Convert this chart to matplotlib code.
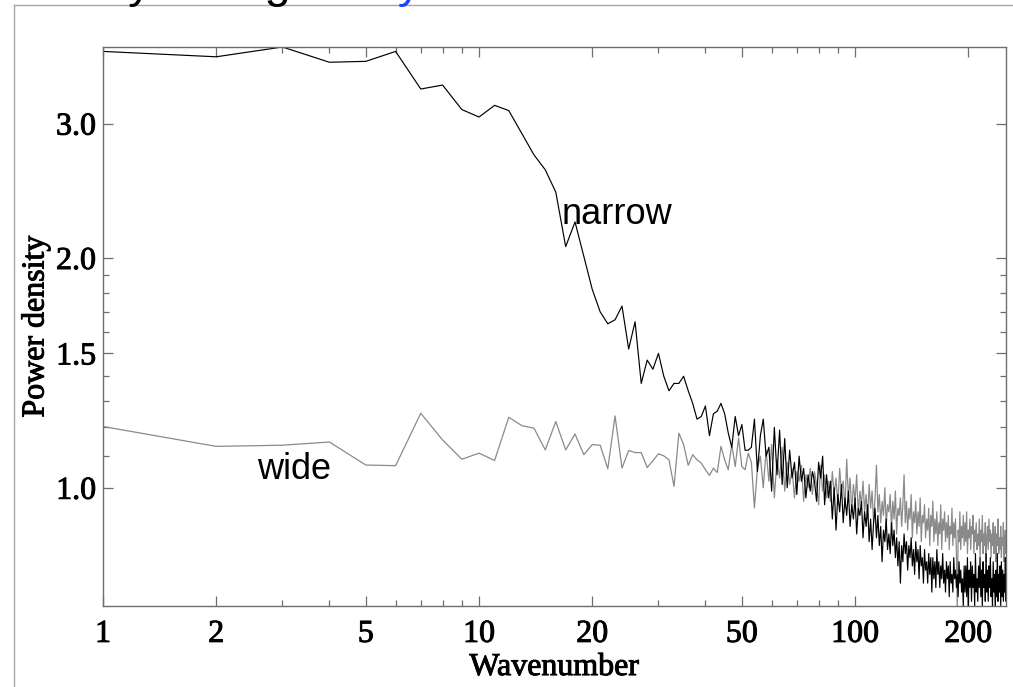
import numpy as np
import matplotlib.pyplot as plt
import matplotlib.patheffects as pe
from matplotlib.lines import Line2D
from matplotlib.ticker import FixedLocator, NullFormatter

# power spectra, one value per wavenumber k = 1, 2, 3, ...
narrow = [
    3.73, 3.67, 3.78, 3.61, 3.62, 3.73, 3.33, 3.37, 3.13, 3.06,
    3.17, 3.12, 2.91, 2.73, 2.61, 2.44, 2.07, 2.23, 2.01, 1.82,
    1.70, 1.64, 1.66, 1.73, 1.52, 1.65, 1.37, 1.47, 1.43, 1.50,
    1.40, 1.34, 1.37, 1.37, 1.40, 1.34, 1.29, 1.23, 1.24, 1.28,
    1.17, 1.25, 1.26, 1.29, 1.25, 1.18, 1.13, 1.24, 1.17, 1.21,
    1.12, 1.12, 1.13, 1.23, 1.05,
    1.17, 1.23, 1.10, 1.13, 0.99, 1.20, 1.04, 1.19, 1.01, 1.16,
    1.00, 1.12, 1.03, 1.08, 0.98, 1.10, 1.02, 1.06, 0.97, 1.04,
    0.99, 1.05, 1.02, 0.96, 1.08, 1.03, 1.10, 0.95, 1.04, 0.97,
    1.02, 0.91, 1.00, 0.88, 0.98, 0.93, 1.01, 0.90, 0.97, 0.92,
    0.99, 0.89, 0.95, 0.91, 0.97, 0.87, 0.94, 0.92, 0.96, 0.86,
    0.93, 0.89, 0.95, 0.85, 0.91, 0.83, 0.90, 0.94, 0.86, 0.92,
    0.84, 0.89, 0.80, 0.88, 0.85, 0.91, 0.83, 0.87, 0.82, 0.90,
    0.84, 0.88, 0.81, 0.86, 0.79, 0.85, 0.75, 0.84, 0.80, 0.87,
    0.82, 0.85, 0.78, 0.84, 0.81, 0.86, 0.79, 0.83, 0.77, 0.85,
    0.80, 0.83, 0.76, 0.84, 0.79, 0.81, 0.75, 0.83, 0.78, 0.80,
    0.75, 0.82, 0.77, 0.81, 0.73, 0.81, 0.76, 0.80, 0.74, 0.83,
    0.77, 0.80, 0.74, 0.79, 0.76, 0.82, 0.75, 0.78, 0.73, 0.80,
    0.76, 0.79, 0.72, 0.80, 0.75, 0.77, 0.73, 0.81, 0.76, 0.78,
    0.74, 0.77, 0.72, 0.80, 0.75, 0.78, 0.73, 0.76, 0.70, 0.79,
    0.73, 0.79, 0.72, 0.81, 0.69, 0.78, 0.74, 0.80, 0.71, 0.79,
    0.74, 0.77, 0.70, 0.82, 0.73, 0.76, 0.71, 0.79, 0.74, 0.81,
    0.72, 0.78, 0.70, 0.80, 0.74, 0.77, 0.71, 0.82, 0.73, 0.78,
    0.71, 0.79, 0.74, 0.81, 0.72, 0.76, 0.70, 0.80, 0.73, 0.77,
    0.69, 0.78, 0.72, 0.82, 0.71, 0.77, 0.73, 0.79, 0.70, 0.80,
    0.72, 0.78, 0.71, 0.77, 0.73, 0.81, 0.71, 0.79, 0.74, 0.78,
]

wide = [
    1.203, 1.133, 1.137, 1.148, 1.071, 1.069, 1.252, 1.155, 1.090, 1.110,
    1.086, 1.237, 1.206, 1.197, 1.121, 1.221, 1.121, 1.176, 1.105, 1.139,
    1.137, 1.059, 1.242, 1.061, 1.119, 1.112, 1.112, 1.063, 1.085, 1.108,
    1.101, 1.088, 1.004, 1.179, 1.139, 1.070, 1.105, 1.088, 1.077, 1.056,
    1.038, 1.061, 1.047, 1.133, 1.088, 1.056, 1.139, 1.066, 1.162, 1.066,
    1.056, 1.110, 1.080, 0.941, 1.060,
    1.10, 1.00, 1.12, 1.02, 1.14, 0.97, 1.09, 1.03, 1.13, 0.99,
    1.08, 1.01, 1.06, 0.97, 1.05, 1.02, 1.07, 0.96, 1.04, 1.00,
    1.06, 0.98, 1.05, 1.01, 0.95, 1.07, 0.99, 1.04, 0.97, 1.02,
    0.96, 1.05, 0.98, 1.03, 0.95, 1.06, 0.99, 1.02, 0.94, 1.09,
    0.97, 1.03, 0.93, 1.01, 0.96, 1.04, 0.92, 0.99, 0.95, 1.02,
    0.93, 0.98, 0.91, 1.01, 0.94, 0.99, 0.90, 0.97, 1.07, 0.93,
    0.98, 0.90, 0.96, 0.92, 1.00, 0.89, 0.95, 0.93, 0.98, 0.88,
    0.96, 0.91, 0.99, 0.87, 0.94, 0.92, 0.97, 0.89, 0.95, 1.04,
    0.90, 0.96, 0.88, 0.94, 0.91, 0.98, 0.86, 0.93, 0.90, 0.96,
    0.87, 0.93, 0.89, 0.97, 0.85, 0.92, 0.90, 0.95, 0.86, 0.91,
    0.88, 0.94, 0.84, 0.92, 0.89, 0.96, 0.85, 0.91, 0.87, 0.93,
    0.84, 0.90, 0.87, 0.95, 0.83, 0.91, 0.88, 0.93, 0.85, 0.90,
    0.86, 0.92, 0.83, 0.89, 0.87, 0.94, 0.84, 0.90, 0.86, 0.91,
    0.82, 0.69, 0.88, 0.85, 0.93, 0.83, 0.89, 0.86, 0.92, 0.84,
    0.90, 0.85, 0.93, 0.82, 0.88, 0.86, 0.91, 0.83, 0.89, 0.87,
    0.92, 0.82, 0.88, 0.85, 0.90, 0.83, 0.87, 0.84, 0.91, 0.81,
    0.88, 0.85, 0.92, 0.82, 0.87, 0.84, 0.90, 0.80, 0.86, 0.89,
    0.83, 0.91, 0.85, 0.88, 0.81, 0.87, 0.84, 0.90, 0.82, 0.86,
    0.89, 0.80, 0.87, 0.84, 0.91, 0.82, 0.86, 0.83, 0.89, 0.81,
    0.86, 0.84, 0.90, 0.80, 0.85, 0.88, 0.82, 0.87, 0.83, 0.86,
]

k = np.arange(1, len(narrow) + 1)

x_major = [1, 2, 5, 10, 20, 50, 100, 200]
x_minor = [3, 4, 6, 7, 8, 9, 30, 40, 60, 70, 80, 90]
y_major = [1.0, 1.5, 2.0, 3.0]
y_minor = [1.1, 1.2, 1.3, 1.4, 1.6, 1.7, 1.8, 1.9]

serif = 'Liberation Serif'
sans = 'Liberation Sans'
frame_col = '#6e6e6e'
heavy = [pe.withStroke(linewidth=0.7, foreground='black')]

W, H = 1013, 687
fig = plt.figure(figsize=(W / 100, H / 100), dpi=100)

# notebook cell bracket lines and the clipped caption above the plot
fig.add_artist(Line2D([14 / W, 14 / W], [0, 1 - 5 / H], color='#a6a6a6', lw=1.0))
fig.add_artist(Line2D([14 / W, 1], [1 - 5 / H, 1 - 5 / H], color='#a6a6a6', lw=1.0))
base = 1 + 3 / H
fig.text(-16 / W, base, 's', color='#1f3fff', fontsize=34, family=sans, va='baseline')
fig.text(102 / W, base, 'by taking', color='black', fontsize=34, family=sans, va='baseline')
fig.text(306 / W, base, 'every other', color='#1f3fff', fontsize=34, family=sans, va='baseline')
fig.text(600 / W, base, 'numbers', color='black', fontsize=34, family=sans, va='baseline')

ax = fig.add_axes([103 / W, (H - 606) / H, (1006 - 103) / W, (606 - 47) / H])

ax.plot(k, wide, color='#8a8a8a', lw=0.9)
ax.plot(k, narrow, color='black', lw=0.85)

ax.set_xscale('log')
ax.set_yscale('log')
ax.set_xlim(1, 252)
ax.set_ylim(0.70, 3.78)

ax.xaxis.set_major_locator(FixedLocator(x_major))
ax.xaxis.set_minor_locator(FixedLocator(x_minor))
ax.set_xticklabels([str(v) for v in x_major])
ax.xaxis.set_minor_formatter(NullFormatter())
ax.yaxis.set_major_locator(FixedLocator(y_major))
ax.yaxis.set_minor_locator(FixedLocator(y_minor))
ax.set_yticklabels(['%.1f' % v for v in y_major])
ax.yaxis.set_minor_formatter(NullFormatter())

ax.tick_params(which='both', direction='in', top=True, right=True, color=frame_col, width=0.9)
ax.tick_params(which='major', length=7.5)
ax.tick_params(which='minor', length=4.2)
ax.tick_params(axis='x', which='major', pad=10)
ax.tick_params(axis='y', which='major', pad=5)
for lab in ax.get_xticklabels() + ax.get_yticklabels():
    lab.set_fontfamily(serif)
    lab.set_fontsize(23)
    lab.set_path_effects(heavy)
for sp in ax.spines.values():
    sp.set_color(frame_col)
    sp.set_linewidth(1.0)

ax.set_xlabel('Wavenumber', family=serif, fontsize=23, labelpad=3, path_effects=heavy)
ax.set_ylabel('Power density', family=serif, fontsize=23, labelpad=4, path_effects=heavy)

ax.text(16.6, 2.216, 'narrow', family=sans, fontsize=26)
ax.text(2.57, 1.0275, 'wide', family=sans, fontsize=26)

fig.savefig('out.png', dpi=100)
